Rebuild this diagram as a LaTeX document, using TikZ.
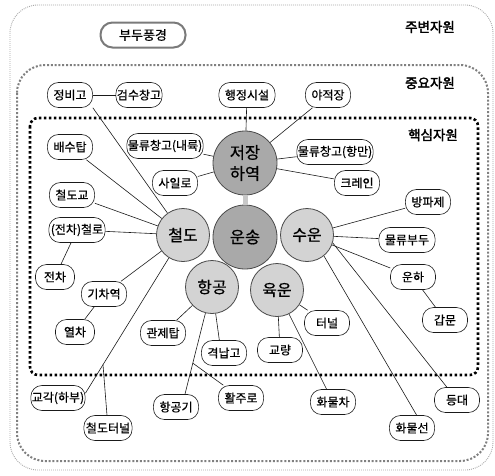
\documentclass[tikz,border=0pt]{standalone}
\usepackage{fontspec}
\usepackage{tikz}
\usepackage{xcolor}
\usetikzlibrary{calc}
\newfontfamily\kr{Noto Sans CJK KR}[FakeBold=0.6]
\newfontfamily\krbold{Noto Sans CJK KR}[FakeBold=2.2]
\definecolor{ink}{HTML}{1A1A1A}
\definecolor{rimgray}{HTML}{4A4A4A}
\definecolor{hubfill}{HTML}{A9A9A9}
\definecolor{modefill}{HTML}{D3D3D3}
\definecolor{barfill}{HTML}{C8C8C8}
\definecolor{outerdot}{HTML}{A8A8A8}
\definecolor{middot}{HTML}{808080}
\definecolor{scenegray}{HTML}{7A7A7A}
\tikzset{
  hubcircle/.style={circle,draw=rimgray,fill=hubfill,line width=0.8pt,
                    minimum size=64pt,inner sep=0pt,align=center,
                    font=\kr\fontsize{16.5}{21}\selectfont},
  modecircle/.style={circle,draw=rimgray,fill=modefill,line width=0.8pt,
                     minimum size=53pt,inner sep=0pt,
                     font=\kr\fontsize{16}{18}\selectfont},
  itembox/.style={draw=ink,fill=white,line width=0.6pt,rounded corners=11pt,
                  minimum width=45pt,minimum height=25pt,
                  inner xsep=6pt,inner ysep=2pt,
                  font=\kr\fontsize{12}{14}\selectfont},
  scenebox/.style={draw=scenegray,line width=2pt,rounded corners=12pt,
                   minimum width=85pt,minimum height=25pt,
                   font=\kr\fontsize{13}{15}\selectfont},
  tierlabel/.style={font=\krbold\fontsize{13.5}{15}\selectfont},
  outerrim/.style={draw=outerdot,line width=0.9pt,
                   dash pattern=on 0.9pt off 1.1pt,rounded corners=28pt},
  midrim/.style={draw=middot,line width=2pt,
                 dash pattern=on 2pt off 1.8pt,rounded corners=28pt},
  innerrim/.style={draw=black,line width=2.6pt,
                   dash pattern=on 2.6pt off 2.4pt,rounded corners=8pt},
  link/.style={line width=0.6pt,color=ink},
  linkbar/.style={line width=5pt,color=barfill}
}
\begin{document}
\begin{tikzpicture}[x=1pt,y=-1pt]
  \useasboundingbox (0,0) rectangle (495,475);
  \draw[outerrim] (10,5) rectangle (493,470);
  \draw[midrim] (17,65) rectangle (488,461);
  \draw[innerrim] (30,118) rectangle (478,375);

  \node[tierlabel] (jubyeon) at (430,27) {주변자원};
  \node[tierlabel] (jungyo) at (430,83) {중요자원};
  \node[tierlabel] (haeksim) at (433,135) {핵심자원};
  \node[scenebox] (budu) at (143,35) {부두풍경};

  \node[hubcircle] (unsong) at (245,237) {운송};
  \node[hubcircle] (jeojang) at (245,163) {저장\\하역};
  \node[modecircle] (cheoldo) at (183,235) {철도};
  \node[modecircle] (suun) at (307,235) {수운};
  \node[modecircle] (hanggong) at (212,287) {항공};
  \node[modecircle] (yugun) at (277,290) {육운};

  \node[itembox] (jeongbigo) at (70,95) {정비고};
  \node[itembox,inner xsep=1pt,minimum width=40pt] (geomsu) at (139,95) {검수창고};
  \node[itembox] (haengjeong) at (247,95) {행정시설};
  \node[itembox] (yajeok) at (328,95) {야적장};
  \node[itembox] (baesu) at (70,147) {배수탑};
  \node[itembox,inner xsep=1pt] (mulnae) at (165,146) {물류창고(내륙)};
  \node[itembox] (sillo) at (175,183) {사일로};
  \node[itembox] (cheoldogyo) at (72,195) {철도교};
  \node[itembox,inner xsep=2pt] (jeoncheollo) at (77,230) {(전차)철로};
  \node[itembox,inner xsep=1pt] (mulhang) at (335,152) {물류창고(항만)};
  \node[itembox] (crane) at (357,183) {크레인};
  \node[itembox] (banpa) at (428,202) {방파제};
  \node[itembox] (mulbudu) at (407,240) {물류부두};
  \node[itembox] (unha) at (413,277) {운하};
  \node[itembox] (gammun) at (445,320) {갑문};
  \node[itembox] (teoneol) at (327,323) {터널};
  \node[itembox] (gyoryang) at (280,350) {교량};
  \node[itembox] (hwamulcha) at (333,402) {화물차};
  \node[itembox] (deungdae) at (457,400) {등대};
  \node[itembox] (hwamulseon) at (412,428) {화물선};
  \node[itembox,minimum width=39pt] (jeoncha) at (55,277) {전차};
  \node[itembox] (gichayeok) at (104,294) {기차역};
  \node[itembox,minimum width=39pt] (yeolcha) at (75,332) {열차};
  \node[itembox] (gwanje) at (163,333) {관제탑};
  \node[itembox] (gyeongnap) at (224,353) {격납고};
  \node[itembox,inner xsep=1pt] (gyogak) at (58,398) {교각(하부)};
  \node[itembox,inner xsep=2pt] (cheoldoteoneol) at (108,428) {철도터널};
  \node[itembox] (hanggonggi) at (176,407) {항공기};
  \node[itembox] (hwalju) at (241,398) {활주로};

  \draw[link] (jeongbigo) -- (geomsu);
  \draw[link] (cheoldo) -- (jeongbigo.south east);
  \draw[link] (cheoldo) -- (baesu);
  \draw[link] (cheoldo) -- (cheoldogyo);
  \draw[link] (cheoldo) -- (jeoncheollo);
  \draw[link] (jeoncheollo) -- (jeoncha);
  \draw[link] (cheoldo) -- (gichayeok);
  \draw[link] (gichayeok) -- (yeolcha);
  \draw[link] (cheoldo) -- (gyogak.10);
  \coordinate (gyogakfork) at ($(cheoldo)!0.82!(gyogak.10)$);
  \draw[link] (gyogakfork) -- (cheoldoteoneol);

  \draw[link] (haengjeong) -- (jeojang);
  \draw[link] (yajeok) -- (jeojang);
  \draw[link] (mulnae) -- (jeojang);
  \draw[link] (sillo) -- (jeojang);
  \draw[link] (mulhang) -- (jeojang);
  \draw[link] (crane) -- (jeojang);
  \draw[linkbar] (jeojang) -- (unsong);

  \draw[link] (suun) -- (banpa);
  \draw[link] (suun) -- (mulbudu);
  \draw[link] (suun) -- (unha);
  \draw[link] (unha) -- (gammun);
  \draw[link] (suun.-17) -- (deungdae);
  \draw[link] (suun.-51) -- (hwamulseon.70);

  \draw[link] (yugun) -- (teoneol);
  \draw[link] (yugun) -- (gyoryang);
  \draw[link] (yugun) -- (hwamulcha);

  \draw[link] (hanggong) -- (gwanje);
  \draw[link] (hanggong) -- (gyeongnap.110);
  \draw[link] (hanggong) -- (hanggonggi.55);
  \coordinate (hanggifork) at ($(hanggong)!0.71!(hanggonggi.55)$);
  \draw[link] (hanggifork) -- (hwalju);
\end{tikzpicture}
\end{document}
